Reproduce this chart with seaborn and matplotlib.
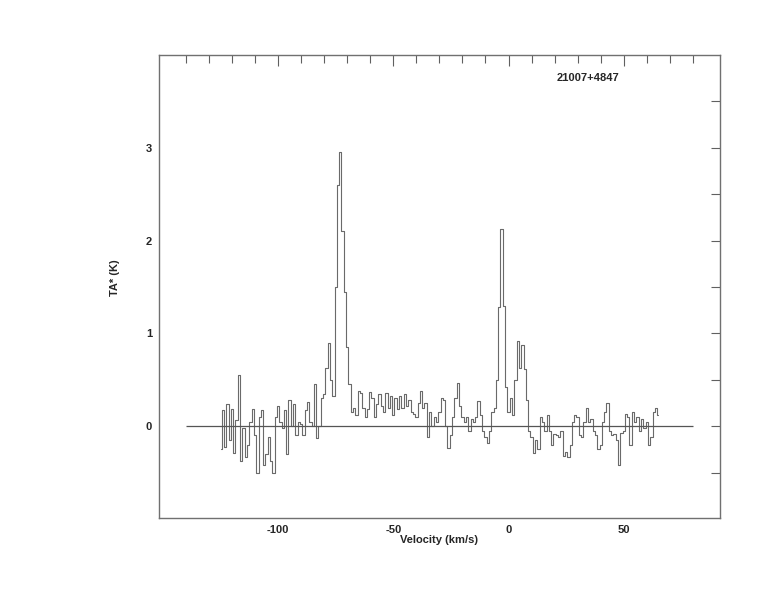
import numpy as np
import pandas as pd
import matplotlib
matplotlib.use("Agg")
import matplotlib.pyplot as plt
from matplotlib.ticker import FixedLocator
import seaborn as sns

# Spectrum channels (km/s) and antenna temperature (K)
velocity = list(range(-125, 66))
ta_star = [
    -0.25, 0.17, -0.22, 0.24, -0.15, 0.18, -0.29, 0.07, 0.55, -0.38,
    -0.02, -0.33, -0.20, 0.05, 0.19, -0.10, -0.50, 0.10, 0.17, -0.42,
    -0.30, -0.12, -0.38, -0.50, 0.10, 0.22, 0.05, -0.02, 0.17, -0.30,
    0.28, 0.00, 0.24, -0.10, 0.05, 0.02, -0.10, 0.17, 0.26, 0.05,
    0.00, 0.45, -0.13, 0.00, 0.30, 0.35, 0.63, 0.90, 0.50, 0.32,
    1.50, 2.60, 2.95, 2.10, 1.45, 0.85, 0.45, 0.15, 0.20, 0.12,
    0.38, 0.36, 0.20, 0.10, 0.18, 0.37, 0.30, 0.10, 0.24, 0.35,
    0.22, 0.15, 0.36, 0.20, 0.32, 0.12, 0.30, 0.18, 0.33, 0.20,
    0.35, 0.22, 0.28, 0.15, 0.13, 0.10, 0.25, 0.38, 0.20, 0.25,
    -0.12, 0.15, 0.00, 0.10, 0.05, 0.15, 0.30, 0.28, 0.00, -0.24,
    -0.10, 0.10, 0.30, 0.46, 0.22, 0.10, 0.05, 0.10, -0.05, 0.08,
    0.05, 0.10, 0.27, 0.12, -0.05, -0.12, -0.18, -0.05, 0.15, 0.20,
    0.50, 1.28, 2.13, 1.30, 0.42, 0.15, 0.30, 0.12, 0.50, 0.92,
    0.63, 0.87, 0.62, 0.28, -0.05, -0.12, -0.29, -0.15, -0.25, 0.10,
    0.05, -0.05, 0.12, -0.05, -0.20, -0.08, -0.10, -0.12, -0.05, -0.32,
    -0.28, -0.33, -0.20, 0.05, 0.12, 0.10, -0.10, -0.12, 0.05, 0.20,
    0.05, 0.08, -0.05, -0.10, -0.25, -0.20, 0.05, 0.15, 0.25, -0.05,
    -0.10, -0.08, -0.15, -0.42, -0.07, -0.05, 0.13, 0.10, -0.20, 0.15,
    0.05, 0.10, -0.05, 0.08, -0.02, 0.05, -0.20, -0.12, 0.15, 0.20,
    0.12,
]
baseline_range = [-140, 80]
x_major = [-100, -50, 0, 50]
x_minor = list(range(-140, 81, 10))
y_major = [0, 1, 2, 3]
y_minor = [-0.5, 0.5, 1.5, 2.5, 3.5]
source_name = "21007+4847"

df = pd.DataFrame({"v": velocity, "T": ta_star})

sns.set_style("white")
plt.rcParams["font.family"] = ["Liberation Sans", "DejaVu Sans"]
plt.rcParams["font.weight"] = "bold"
plt.rcParams["axes.unicode_minus"] = False

fig = plt.figure(figsize=(7.74, 6.12), dpi=100)
ax = fig.add_axes([0.2054, 0.1536, 0.7246, 0.7565])

sns.lineplot(data=df, x="v", y="T", ax=ax, color="#6a6a6a", linewidth=0.8,
             drawstyle="steps-mid", estimator=None)
ax.hlines(0, baseline_range[0], baseline_range[1], color="#555555", linewidth=0.9)

ax.set_xlim(-151.7, 91.7)
ax.set_ylim(-0.99, 4.0)

ax.xaxis.set_major_locator(FixedLocator(x_major))
ax.xaxis.set_minor_locator(FixedLocator([t for t in x_minor if t not in x_major]))
ax.yaxis.set_major_locator(FixedLocator(y_major))
ax.yaxis.set_minor_locator(FixedLocator(y_minor))
ax.tick_params(which="both", direction="in", top=True, right=True,
               color="#606060", width=0.8, labelsize=8, pad=5)
ax.tick_params(axis="x", which="major", length=8)
ax.tick_params(axis="x", which="minor", length=5.5)
ax.tick_params(axis="y", which="major", length=6.5)
ax.tick_params(axis="y", which="minor", length=6.5)
for lbl in ax.get_xticklabels() + ax.get_yticklabels():
    lbl.set_fontweight("bold")

for s in ax.spines.values():
    s.set_color("#707070")
    s.set_linewidth(1.0)

ax.set_xlabel("Velocity (km/s)", fontsize=8, fontweight="bold", labelpad=0)
ax.set_ylabel("TA* (K)", fontsize=8, fontweight="bold")
ax.yaxis.set_label_coords(-0.07, 0.52)

ax.text(0.765, 0.95, source_name, transform=ax.transAxes, fontsize=8,
        fontweight="bold", ha="center", va="center")

fig.savefig("out.png", dpi=100)
